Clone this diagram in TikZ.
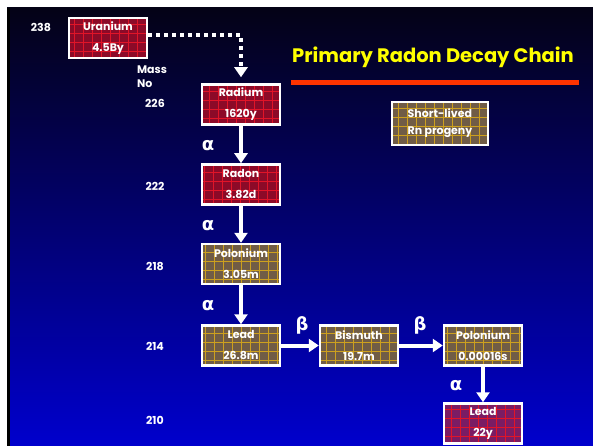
\documentclass[tikz,border=0pt]{standalone}
\usepackage{fontspec}
\setmainfont{Poppins}
\newfontfamily\greekf{DejaVu Sans}
\usetikzlibrary{arrows.meta}
\definecolor{redfill}{RGB}{140,10,40}
\definecolor{redgrid}{RGB}{225,20,40}
\definecolor{brownfill}{RGB}{112,92,70}
\definecolor{browngrid}{RGB}{205,160,30}
\definecolor{purplefill}{RGB}{122,28,100}
\definecolor{titleyellow}{RGB}{255,255,0}
\definecolor{lineorange}{RGB}{255,51,0}
\definecolor{bgtop}{RGB}{4,2,22}
\definecolor{bgmid}{RGB}{0,0,125}
\definecolor{bgbot}{RGB}{0,0,205}
\begin{document}
\begin{tikzpicture}[x=1pt,y=-1pt,
  nuclide/.style={draw=white, line width=2.5pt, minimum width=78pt, minimum height=40pt,
    inner sep=0pt, text=white, align=center, font=\fontsize{11}{21}\selectfont\bfseries},
  redbox/.style={nuclide, fill=redfill, path picture={\draw[redgrid, line width=0.6pt, step=9pt]
    (path picture bounding box.south west) grid (path picture bounding box.north east);}},
  purplebox/.style={nuclide, fill=purplefill, path picture={\draw[redgrid, line width=0.6pt, step=9pt]
    (path picture bounding box.south west) grid (path picture bounding box.north east);}},
  brownbox/.style={nuclide, fill=brownfill, path picture={\draw[browngrid, line width=0.6pt, step=9pt]
    (path picture bounding box.south west) grid (path picture bounding box.north east);}},
  arr/.style={draw=white, line width=4pt, -{Triangle[width=13pt,length=10pt]}},
  dotarr/.style={draw=white, line width=4pt, dash pattern=on 4pt off 4pt, -{Triangle[width=13pt,length=10pt]}},
  mass/.style={text=white, font=\fontsize{11}{13}\selectfont\bfseries},
  decay/.style={text=white, font=\fontsize{18}{18}\selectfont\greekf\bfseries},
]
\useasboundingbox (0,0) rectangle (593,446);
\fill[white] (0,0) rectangle (593,446);
\shade[top color=bgtop, middle color=bgmid, bottom color=bgbot] (7,8) rectangle (593,446);
\fill[black] (7,8) rectangle (9.5,446);

% title
\node[text=titleyellow, font=\fontsize{19.5}{22}\selectfont\bfseries] (title) at (433,57) {Primary Radon Decay Chain};
\draw[lineorange, line width=5pt] (291,82.5) -- (579,82.5);

% boxes
\node[redbox] (U) at (108,38) {Uranium\\4.5By};
\node[redbox] (Ra) at (241,104.5) {Radium\\1620y};
\node[redbox] (Rn) at (241,184.5) {Radon\\3.82d};
\node[brownbox] (Po218) at (241,264) {Polonium\\3.05m};
\node[brownbox] (Pb214) at (241,345.5) {Lead\\26.8m};
\node[brownbox] (Bi) at (359,345.5) {Bismuth\\19.7m};
\node[brownbox] (Po214) at (483,345.5) {Polonium\\0.00016s};
\node[purplebox] (Pb210) at (483,423.5) {Lead\\22y};
\node[brownbox, minimum width=96pt, minimum height=43pt, align=left, font=\fontsize{11}{17}\selectfont\bfseries] (legend) at (440,123.5) {Short-lived\\Rn progeny};

% mass numbers
\node[mass] (m238) at (41,27) {238};
\node[mass, align=left, font=\fontsize{11}{14}\selectfont\bfseries] (massno) at (152,77) {Mass\\No};
\node[mass] (m226) at (155,103) {226};
\node[mass] (m222) at (155,186) {222};
\node[mass] (m218) at (155,266) {218};
\node[mass] (m214) at (155,346) {214};
\node[mass] (m210) at (155,420) {210};

% connectors
\draw[dotarr, shorten >=6pt] ([yshift=3pt]U.east) -| (Ra.north);
\draw[arr] (Ra) -- (Rn);
\draw[arr] (Rn) -- (Po218);
\draw[arr] (Po218) -- (Pb214);
\draw[arr] (Pb214) -- (Bi);
\draw[arr] (Bi) -- (Po214);
\draw[arr] (Po214) -- (Pb210);

% decay labels
\node[decay] (a1) at (208,146) {α};
\node[decay] (a2) at (208,226) {α};
\node[decay] (a3) at (208,306) {α};
\node[decay] (a4) at (456,386) {α};
\node[decay] (b1) at (302,325) {β};
\node[decay] (b2) at (420,325) {β};
\end{tikzpicture}
\end{document}
